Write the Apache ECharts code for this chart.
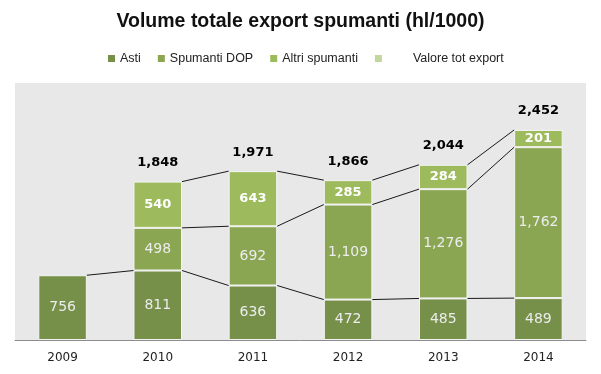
<!DOCTYPE html>
<html>
<head>
<meta charset="utf-8">
<script src="https://cdn.jsdelivr.net/npm/echarts@6/dist/echarts.min.js"></script>
<style>html,body{margin:0;padding:0;background:#fff}#c{width:601px;height:374px}</style>
</head>
<body>
<div id="c"></div>
<script>
const years = ['2009', '2010', '2011', '2012', '2013', '2014'];
const asti = [756, 811, 636, 472, 485, 489];
const dop = [null, 498, 692, 1109, 1276, 1762];
const altri = [null, 540, 643, 285, 284, 201];
const totals = [null, 1848, 1971, 1866, 2044, 2452];

const fmt = v => Number(v).toLocaleString('en-US');
const BARW = 0.51;
const numFont = "'DejaVu Sans', Verdana, sans-serif";

const chart = echarts.init(document.getElementById('c'), null, {renderer: 'canvas'});

function levels(k) {
  const a = asti[k];
  const d = dop[k] == null ? null : asti[k] + dop[k];
  const t = (altri[k] == null || dop[k] == null) ? null : asti[k] + dop[k] + altri[k];
  return [a, d, t];
}

chart.setOption({
  animation: false,
  title: {
    text: 'Volume totale export spumanti (hl/1000)',
    left: 'center',
    top: 7,
    textStyle: {fontFamily: "'Liberation Sans', Arial, sans-serif", fontWeight: 'bold', fontSize: 19.5, color: '#111'}
  },
  legend: {
    left: 103,
    top: 47,
    icon: 'rect',
    itemWidth: 7,
    itemHeight: 7,
    itemGap: 17,
    itemStyle: {borderWidth: 0},
    textStyle: {
      fontFamily: "'Liberation Sans', Arial, sans-serif",
      fontSize: 12.5,
      color: '#222',
      rich: {g: {width: 26}}
    },
    formatter: n => n === 'Valore tot export' ? '{g|}' + n : n,
    data: ['Asti', 'Spumanti DOP', 'Altri spumanti', 'Valore tot export']
  },
  grid: {
    left: 15, right: 15, top: 83, bottom: 34,
    show: true, backgroundColor: '#e8e8e8', borderWidth: 0
  },
  xAxis: {
    type: 'category',
    data: years,
    axisLine: {lineStyle: {color: '#8c8c8c', width: 1}},
    axisTick: {show: false},
    axisLabel: {fontFamily: numFont, fontSize: 12, color: '#222', margin: 12}
  },
  yAxis: {
    type: 'value', min: 0, max: 3000,
    show: false,
    splitLine: {show: false}
  },
  series: [
    {
      name: 'Asti', type: 'bar', stack: 'a', barWidth: (BARW * 100) + '%',
      data: asti,
      itemStyle: {color: '#76904a', borderColor: '#f4f4f4', borderWidth: 1},
      label: {show: true, position: 'inside', formatter: p => fmt(p.value), fontFamily: numFont, fontSize: 14, color: '#ececec'}
    },
    {
      name: 'Spumanti DOP', type: 'bar', stack: 'a',
      data: dop,
      itemStyle: {color: '#8ba653', borderColor: '#f4f4f4', borderWidth: 1},
      label: {show: true, position: 'inside', formatter: p => fmt(p.value), fontFamily: numFont, fontSize: 14, color: '#ececec'}
    },
    {
      name: 'Altri spumanti', type: 'bar', stack: 'a',
      data: altri,
      itemStyle: {color: '#9dbb5c', borderColor: '#f4f4f4', borderWidth: 1},
      label: {show: true, position: 'inside', formatter: p => fmt(p.value), fontFamily: numFont, fontSize: 13, fontWeight: 'bold', color: '#ffffff'}
    },
    {
      name: 'Valore tot export', type: 'custom',
      itemStyle: {color: '#c3d69b'},
      data: years.map((y, i) => [i, totals[i] == null ? asti[i] : totals[i]]),
      encode: {x: 0, y: 1},
      clip: false,
      z: 5,
      renderItem: function (params, api) {
        const i = params.dataIndex;
        const hw = api.size([1, 0])[0] * BARW / 2;
        const children = [];
        if (i < years.length - 1) {
          const a = levels(i), b = levels(i + 1);
          for (let j = 0; j < 3; j++) {
            if (a[j] != null && b[j] != null) {
              const p1 = api.coord([i, a[j]]);
              const p2 = api.coord([i + 1, b[j]]);
              children.push({
                type: 'line',
                shape: {x1: p1[0] + hw, y1: p1[1], x2: p2[0] - hw, y2: p2[1]},
                style: {stroke: '#1a1a1a', lineWidth: 1}
              });
            }
          }
        }
        if (totals[i] != null) {
          const lv = levels(i);
          const p = api.coord([i, lv[2]]);
          children.push({
            type: 'text',
            x: p[0], y: p[1] - 19,
            style: {text: fmt(totals[i]), fontFamily: numFont, fontSize: 13, fontWeight: 'bold', fill: '#000', align: 'center', verticalAlign: 'middle'}
          });
        }
        return {type: 'group', children: children};
      }
    }
  ]
});
</script>
</body>
</html>
